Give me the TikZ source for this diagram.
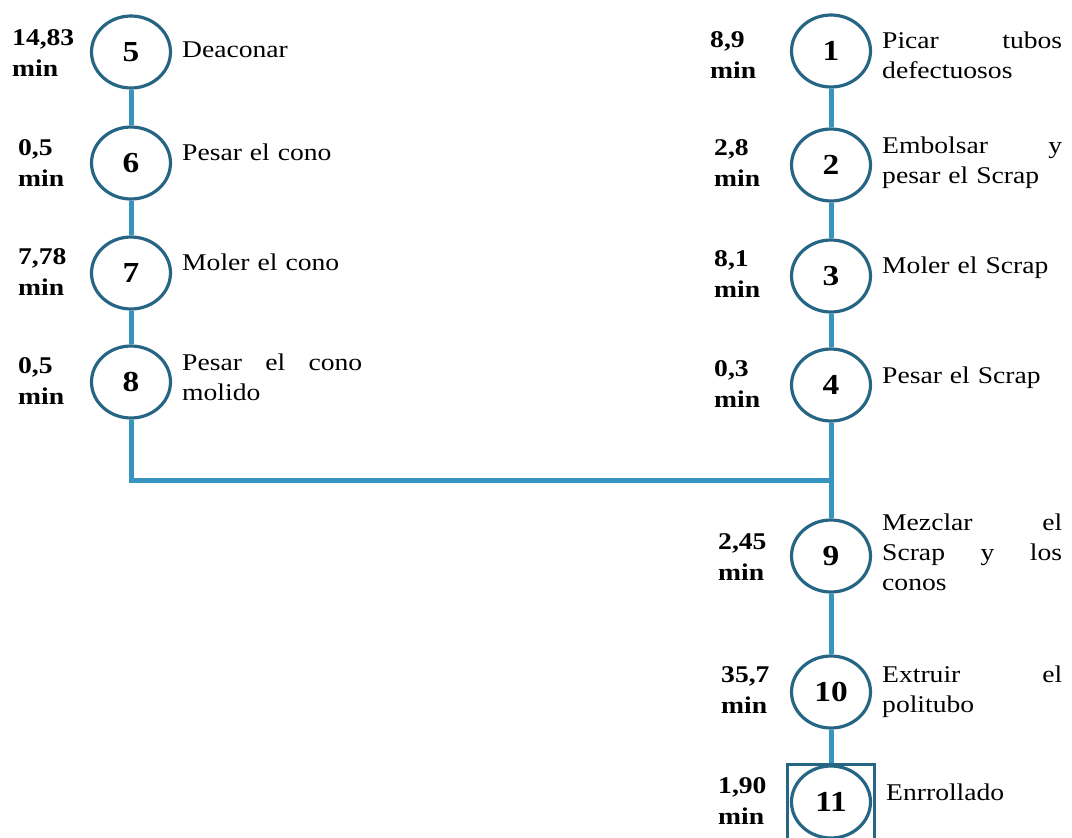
\documentclass[tikz,border=0pt]{standalone}
\usepackage{fontspec}
\setmainfont{Liberation Serif}[FakeStretch=1.15]
\usetikzlibrary{shapes.geometric}
\definecolor{ring}{RGB}{38,102,132}
\definecolor{flow}{RGB}{55,148,190}
\begin{document}
\begin{tikzpicture}[x=1pt,y=-1pt,
  op/.style={ellipse, draw=ring, line width=3.2pt, fill=white,
    minimum width=79pt, minimum height=72pt, inner sep=0pt,
    font=\fontsize{29}{34}\selectfont\bfseries},
  desc/.style={anchor=base west, text width=180pt, align=left, inner sep=0pt,
    font=\fontsize{24}{30}\selectfont},
  tlab/.style={anchor=base west, text width=70pt, align=left, inner sep=0pt,
    font=\fontsize{24}{31}\selectfont\bfseries},
  flowline/.style={draw=flow, line width=5pt}]
\useasboundingbox (0,0) rectangle (1072,838);

% left branch: cone preparation
\node[op] (n5) at (131,52)  {5};
\node[op] (n6) at (131,163) {6};
\node[op] (n7) at (131,273) {7};
\node[op] (n8) at (131,382) {8};

% right branch: scrap preparation and final steps
\node[op] (n1) at (831,51)  {1};
\node[op] (n2) at (831,165) {2};
\node[op] (n3) at (831,276) {3};
\node[op] (n4) at (831,385) {4};
\node[op] (n9) at (831,556) {9};
\node[op] (n10) at (831,692) {10};
\node[draw=ring, line width=3.2pt, minimum size=87pt, inner sep=0pt] (box11) at (831,808) {};
\node[op] (n11) at (831,802) {11};

% connectors
\coordinate (jl) at (131,480);
\coordinate (j) at (831,480);
\draw[flowline] (n5.south) -- (n6.north);
\draw[flowline] (n6.south) -- (n7.north);
\draw[flowline] (n7.south) -- (n8.north);
\draw[flowline] (n8.south) -- (jl) -- (j);
\draw[flowline] (n1.south) -- (n2.north);
\draw[flowline] (n2.south) -- (n3.north);
\draw[flowline] (n3.south) -- (n4.north);
\draw[flowline] (n4.south) -- (n9.north);
\draw[flowline] (n9.south) -- (n10.north);
\draw[flowline] (n10.south) -- (box11.north);

% activity descriptions
\node[desc] (d5) at (182,57)  {Deaconar};
\node[desc] (d6) at (182,160) {Pesar el cono};
\node[desc] (d7) at (182,270) {Moler el cono};
\node[desc] (d8) at (182,370) {Pesar\hfill el\hfill cono\\molido};
\node[desc] (d1) at (882,48)  {Picar\hfill tubos\\defectuosos};
\node[desc] (d2) at (882,153) {Embolsar\hfill y\\pesar el Scrap};
\node[desc] (d3) at (882,273) {Moler el Scrap};
\node[desc] (d4) at (882,383) {Pesar el Scrap};
\node[desc] (d9) at (882,530) {Mezclar\hfill el\\Scrap\hfill y\hfill los\\conos};
\node[desc] (d10) at (882,682) {Extruir\hfill el\\politubo};
\node[desc] (d11) at (886,800) {Enrrollado};

% times
\node[tlab] (t5) at (12,45)  {14,83\\min};
\node[tlab] (t6) at (18,155) {0,5\\min};
\node[tlab] (t7) at (18,264) {7,78\\min};
\node[tlab] (t8) at (18,373) {0,5\\min};
\node[tlab] (t1) at (710,47)  {8,9\\min};
\node[tlab] (t2) at (714,155) {2,8\\min};
\node[tlab] (t3) at (714,266) {8,1\\min};
\node[tlab] (t4) at (714,376) {0,3\\min};
\node[tlab] (t9) at (718,549) {2,45\\min};
\node[tlab] (t10) at (721,682) {35,7\\min};
\node[tlab] (t11) at (718,793) {1,90\\min};
\end{tikzpicture}
\end{document}
